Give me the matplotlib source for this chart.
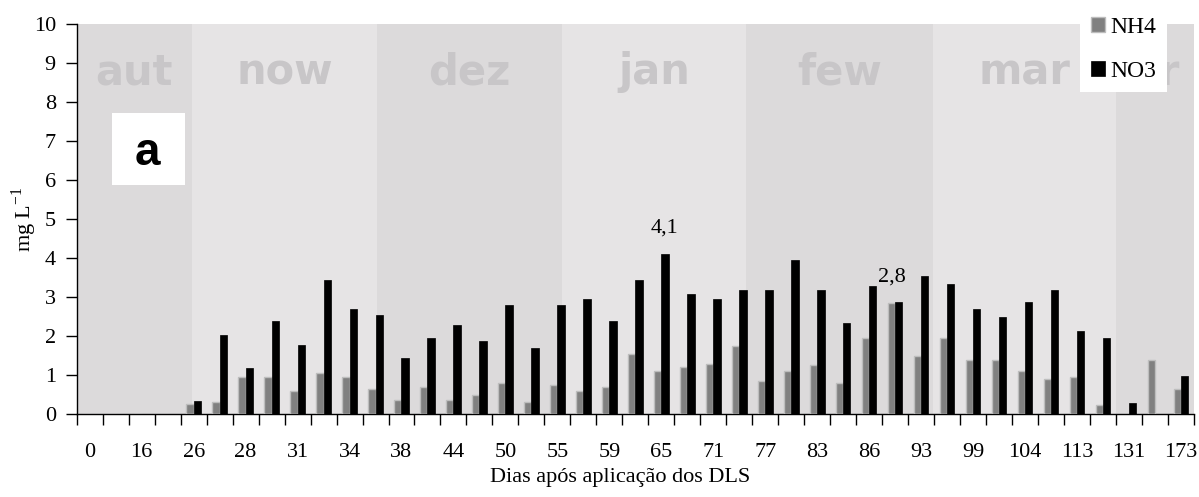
import numpy as np
import matplotlib.pyplot as plt
from matplotlib.patches import Rectangle

# Dias (apenas os rótulos visíveis, um a cada duas categorias)
dias = ['0', '16', '26', '28', '31', '34', '38', '44', '50', '55', '59',
        '65', '71', '77', '83', '86', '93', '99', '104', '113', '131', '173']

# Concentrações (mg/L) por coleta, 43 coletas
nh4 = [0, 0, 0, 0, 0.26, 0.32, 0.95, 0.95, 0.59, 1.06,
       0.95, 0.65, 0.37, 0.70, 0.36, 0.48, 0.80, 0.31, 0.74, 0.60,
       0.70, 1.53, 1.10, 1.21, 1.27, 1.74, 0.84, 1.10, 1.26, 0.80,
       1.95, 2.84, 1.48, 1.95, 1.38, 1.38, 1.10, 0.91, 0.95, 0.23,
       0, 1.38, 0.64]
no3 = [0, 0, 0, 0, 0.34, 2.02, 1.18, 2.39, 1.76, 3.43,
       2.69, 2.54, 1.44, 1.96, 2.28, 1.86, 2.80, 1.70, 2.80, 2.96,
       2.38, 3.43, 4.11, 3.07, 2.96, 3.17, 3.17, 3.96, 3.17, 2.33,
       3.28, 2.86, 3.54, 3.33, 2.69, 2.50, 2.86, 3.17, 2.13, 1.95,
       0.28, 0, 0.97]

# Meses do fundo e seus limites (em unidades de categoria)
meses = ['aut', 'now', 'dez', 'jan', 'few', 'mar', 'abr']
limites = [-0.5, 3.93, 11.07, 18.18, 25.25, 32.47, 39.5, 42.5]

plt.rcParams['font.family'] = ['Liberation Serif', 'DejaVu Serif']
plt.rcParams['mathtext.fontset'] = 'custom'
plt.rcParams['mathtext.rm'] = 'Liberation Serif'

fig = plt.figure(figsize=(11.99, 4.97), dpi=100)
ax = fig.add_axes([76.7 / 1199, 83 / 497, 1117.3 / 1199, 390 / 497])

n = len(nh4)
x = np.arange(n)
ax.set_xlim(-0.5, n - 0.5)
ax.set_ylim(0, 10)

# faixas dos meses
for i, nome in enumerate(meses):
    a, b = limites[i], limites[i + 1]
    cor = '#dcdadb' if i % 2 == 0 else '#e6e4e5'
    ax.axvspan(a, b, color=cor, lw=0, zorder=0)
    xc = (a + b) / 2 if i < len(meses) - 1 else 40.45
    ax.text(xc, 8.45, nome, ha='center', va='baseline',
            fontsize=30, fontweight='bold', color='#c8c6c8',
            family='DejaVu Sans', zorder=1, clip_on=True)

w = 0.28
ax.bar(x - w / 2, nh4, w, color='#808080', edgecolor='#bdbdbd', lw=1.0,
       label='NH4', zorder=3)
ax.bar(x + w / 2, no3, w, color='black', edgecolor='black', lw=0.5,
       label='NO3', zorder=3)

ax.text(x[22] + w / 2, no3[22] + 0.66, '4,1', ha='center', va='center',
        fontsize=16, zorder=4)
ax.text(x[31] - w / 2, nh4[31] + 0.66, '2,8', ha='center', va='center',
        fontsize=16, zorder=4)

# quadro "a"
ax.add_patch(Rectangle((0.845, 5.88), 2.815, 1.84, facecolor='white',
                       edgecolor='none', zorder=4))
ax.text(2.22, 6.68, 'a', ha='center', va='center', fontsize=33,
        fontweight='bold', family='Liberation Sans', zorder=5)

ax.set_xticks(np.arange(-0.5, n, 1))
ax.set_xticklabels([])
ax.set_xticks(x[::2], minor=True)
ax.set_xticklabels(dias, minor=True, fontsize=16)
ax.tick_params(axis='x', which='major', length=8, width=1, direction='out')
ax.tick_params(axis='x', which='minor', length=0, pad=21)
ax.set_yticks(range(0, 11))
ax.tick_params(axis='y', length=8, width=1, labelsize=16, pad=7)

ax.spines['top'].set_visible(False)
ax.spines['right'].set_visible(False)
ax.spines['left'].set_linewidth(1)
ax.spines['bottom'].set_linewidth(1)

ax.set_xlabel('Dias após aplicação dos DLS', fontsize=16)
ax.xaxis.set_label_coords(0.486, -0.138)
ax.set_ylabel('mg L$^{-1}$', fontsize=16)
ax.yaxis.set_label_coords(-0.034, 0.5)

leg = ax.legend(loc='upper right', bbox_to_anchor=(0.976, 1.045),
                frameon=True, fontsize=17, handlelength=0.6,
                handleheight=0.6, handletextpad=0.25, labelspacing=0.95,
                borderpad=0.45, borderaxespad=0, fancybox=False)
leg.get_frame().set_edgecolor('none')
leg.get_frame().set_facecolor('white')
leg.get_frame().set_alpha(1)
leg.set_zorder(6)

plt.savefig('out.png', dpi=100)
